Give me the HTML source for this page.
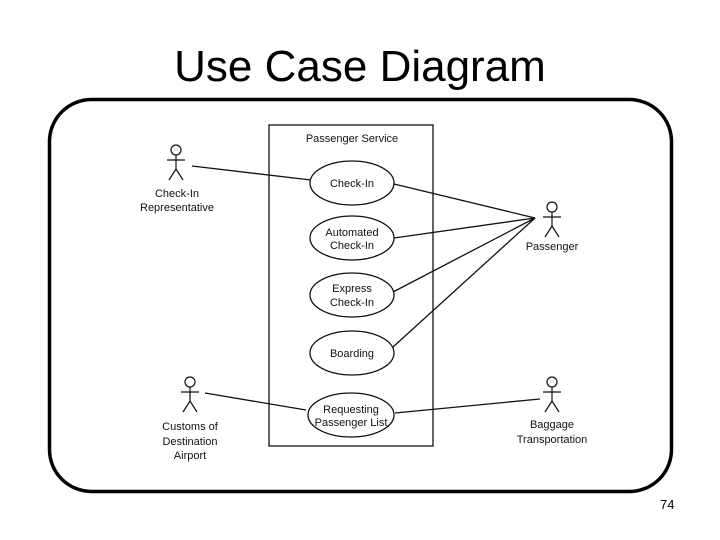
<!DOCTYPE html>
<html><head><style>
body{margin:0;width:720px;height:540px;background:#fff;position:relative;overflow:hidden;font-family:"Liberation Sans",sans-serif}
.t{position:absolute;left:0;width:720px;top:41px;text-align:center;font-size:44px;color:#000;line-height:52px}
.n{position:absolute;left:660px;top:497px;font-size:13px}
</style></head><body>
<div class="t">Use Case Diagram</div>
<svg width="720" height="540" style="position:absolute;left:0;top:0">
<rect x="49.5" y="99.5" width="622" height="392" rx="42" fill="none" stroke="#000" stroke-width="3.5"/>
<g fill="none" stroke="#111" stroke-width="1.3">
<rect x="269" y="125" width="164" height="321"/>
<ellipse cx="352" cy="183" rx="42" ry="22"/>
<ellipse cx="352" cy="238" rx="42" ry="22"/>
<ellipse cx="352" cy="295" rx="42" ry="22"/>
<ellipse cx="352" cy="353" rx="42" ry="22"/>
<ellipse cx="351" cy="415" rx="43" ry="22"/>
<line x1="192" y1="166" x2="311" y2="180"/>
<line x1="394" y1="184" x2="535" y2="218"/>
<line x1="394" y1="238" x2="535" y2="218"/>
<line x1="393" y1="292" x2="535" y2="218"/>
<line x1="393" y1="347" x2="535" y2="218"/>
<line x1="205" y1="393" x2="306" y2="410"/>
<line x1="395" y1="413" x2="540" y2="399"/>
</g>
<g fill="none" stroke="#111" stroke-width="1.2">
<g transform="translate(176,150)"><circle cx="0" cy="0" r="5"/><line x1="0" y1="5" x2="0" y2="19"/><line x1="-9" y1="10" x2="9" y2="10"/><line x1="0" y1="19" x2="-7" y2="30"/><line x1="0" y1="19" x2="7" y2="30"/></g>
<g transform="translate(552,207)"><circle cx="0" cy="0" r="5"/><line x1="0" y1="5" x2="0" y2="19"/><line x1="-9" y1="10" x2="9" y2="10"/><line x1="0" y1="19" x2="-7" y2="30"/><line x1="0" y1="19" x2="7" y2="30"/></g>
<g transform="translate(190,382)"><circle cx="0" cy="0" r="5"/><line x1="0" y1="5" x2="0" y2="19"/><line x1="-9" y1="10" x2="9" y2="10"/><line x1="0" y1="19" x2="-7" y2="30"/><line x1="0" y1="19" x2="7" y2="30"/></g>
<g transform="translate(552,382)"><circle cx="0" cy="0" r="5"/><line x1="0" y1="5" x2="0" y2="19"/><line x1="-9" y1="10" x2="9" y2="10"/><line x1="0" y1="19" x2="-7" y2="30"/><line x1="0" y1="19" x2="7" y2="30"/></g>
</g>
<g font-family="Liberation Sans, sans-serif" font-size="11" fill="#111" text-anchor="middle">
<text x="352" y="142">Passenger Service</text>
<text x="352" y="187">Check-In</text>
<text x="352" y="236">Automated</text><text x="352" y="249">Check-In</text>
<text x="352" y="292">Express</text><text x="352" y="306">Check-In</text>
<text x="352" y="357">Boarding</text>
<text x="351" y="413">Requesting</text><text x="351" y="426">Passenger List</text>
<text x="177" y="197">Check-In</text><text x="177" y="211">Representative</text>
<text x="552" y="250">Passenger</text>
<text x="190" y="430">Customs of</text><text x="190" y="445">Destination</text><text x="190" y="459">Airport</text>
<text x="552" y="428">Baggage</text><text x="552" y="443">Transportation</text>
</g>
</svg>
<div class="n">74</div>
</body></html>
